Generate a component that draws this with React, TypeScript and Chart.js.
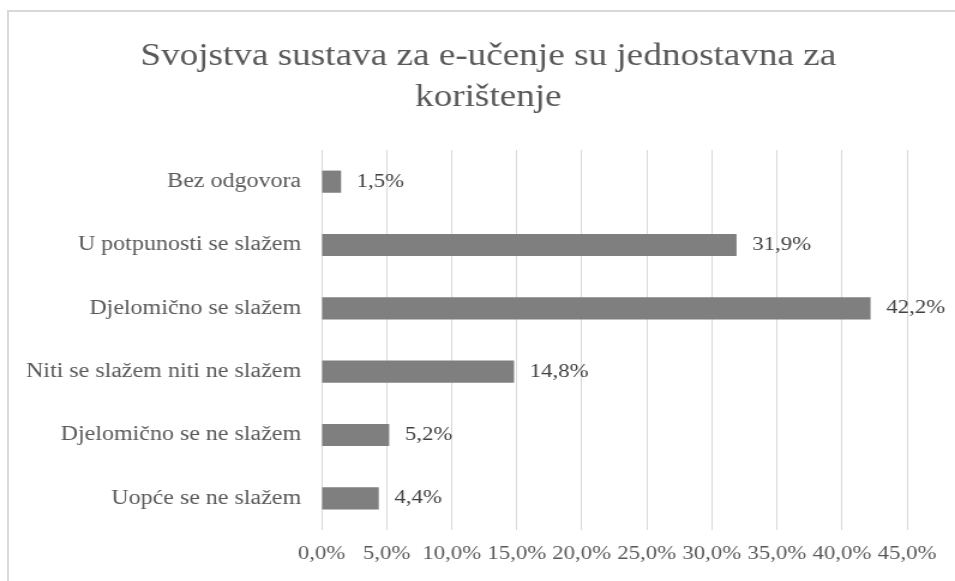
import React, { useEffect, useRef } from "react";
import { Chart, registerables } from "chart.js";

Chart.register(...registerables);

const categories = [
  "Bez odgovora",
  "U potpunosti se slažem",
  "Djelomično se slažem",
  "Niti se slažem niti ne slažem",
  "Djelomično se ne slažem",
  "Uopće se ne slažem",
];
const values = [1.5, 31.9, 42.2, 14.8, 5.2, 4.4];
const titleLines = ["Svojstva sustava za e-učenje su jednostavna za", "korištenje"];
const axisMin = 0;
const axisMax = 45;
const axisStep = 5;

const fmt = (v: number) => v.toFixed(1).replace(".", ",") + "%";

const W = 955;
const H = 581;
const IW = 796;
const SX = W / IW;
const FONT = '"Liberation Serif", "Times New Roman", serif';
const TEXT = "#595959";

const valueLabels = {
  id: "valueLabels",
  afterDatasetsDraw(chart: any) {
    const ctx = chart.ctx;
    const meta = chart.getDatasetMeta(0);
    ctx.save();
    ctx.font = `19px ${FONT}`;
    ctx.fillStyle = "#404040";
    ctx.textAlign = "left";
    ctx.textBaseline = "middle";
    meta.data.forEach((bar: any, i: number) => {
      ctx.fillText(fmt(values[i]), bar.x + 13, bar.y);
    });
    ctx.restore();
  },
};

export default function App() {
  const ref = useRef<HTMLCanvasElement>(null);
  useEffect(() => {
    const chart = new Chart(ref.current as HTMLCanvasElement, {
      type: "bar",
      data: {
        labels: categories,
        datasets: [
          {
            data: values,
            backgroundColor: "#7f7f7f",
            borderWidth: 0,
            categoryPercentage: 1,
            barPercentage: 0.35,
          },
        ],
      },
      options: {
        indexAxis: "y",
        responsive: false,
        animation: false,
        devicePixelRatio: 1,
        layout: { padding: { left: 58, right: 40, top: 0, bottom: 0 } },
        plugins: {
          legend: { display: false },
          tooltip: { enabled: false },
          title: {
            display: true,
            text: titleLines,
            color: TEXT,
            font: { family: FONT, size: 31, weight: "normal", lineHeight: 41 / 31 },
            padding: { top: 36.5, bottom: 31.5 },
          },
        },
        scales: {
          x: {
            type: "linear",
            min: axisMin,
            max: axisMax,
            ticks: {
              stepSize: axisStep,
              callback: (v: any) => fmt(Number(v)),
              autoSkip: false,
              maxRotation: 0,
              minRotation: 0,
              color: TEXT,
              font: { family: FONT, size: 19 },
              padding: 13,
            },
            grid: { color: "#d9d9d9", drawTicks: false },
            border: { display: false },
            afterFit: (scale: any) => {
              scale.height = 51;
            },
          },
          y: {
            grid: { display: false, drawTicks: false },
            border: { display: false },
            ticks: {
              color: TEXT,
              font: { family: FONT, size: 20 },
              padding: 17,
            },
            afterFit: (scale: any) => {
              scale.width = 210;
              scale._computeLabelArea = () => undefined;
            },
          },
        },
      },
      plugins: [valueLabels],
    } as any);
    return () => chart.destroy();
  }, []);

  return (
    <div
      style={{
        position: "fixed",
        left: 0,
        top: 0,
        width: W,
        height: H,
        background: "#fff",
        overflow: "hidden",
      }}
    >
      <div
        style={{
          position: "absolute",
          left: 7,
          top: 10,
          width: W,
          height: H,
          borderLeft: "2px solid #d9d9d9",
          borderTop: "2px solid #d9d9d9",
        }}
      />
      <div
        style={{
          position: "absolute",
          left: 0,
          top: 0,
          width: IW,
          height: H,
          transform: `scaleX(${SX})`,
          transformOrigin: "0 0",
        }}
      >
        <canvas ref={ref} width={IW} height={H} style={{ display: "block", width: IW, height: H }} />
      </div>
    </div>
  );
}
